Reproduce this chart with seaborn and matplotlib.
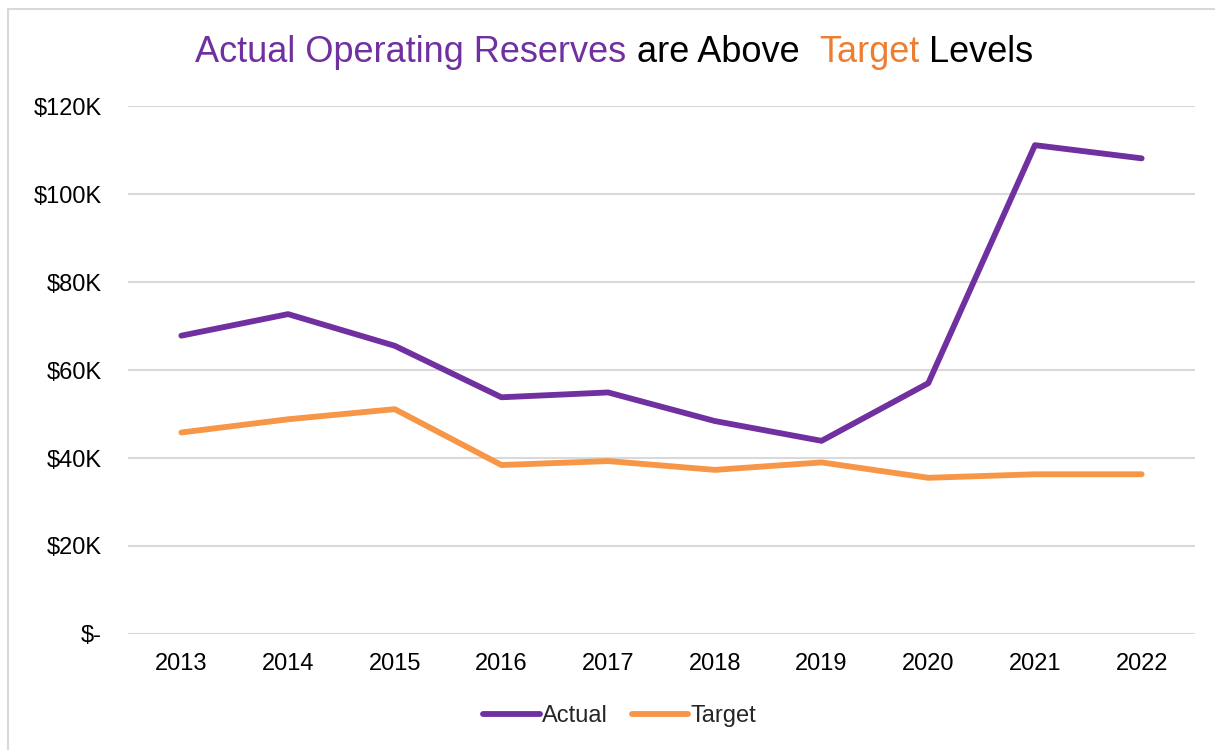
import matplotlib
matplotlib.use("Agg")
import matplotlib.pyplot as plt
import seaborn as sns
import pandas as pd
from matplotlib.patches import Rectangle
from matplotlib.ticker import FuncFormatter

# Data (values in dollars)
years = ["2013", "2014", "2015", "2016", "2017", "2018", "2019", "2020", "2021", "2022"]
actual = [67800, 72700, 65500, 53800, 54900, 48400, 43900, 57000, 111100, 108100]
target = [45800, 48800, 51100, 38400, 39300, 37300, 39000, 35500, 36300, 36300]

purple = "#7030A0"
orange = "#F79646"
title_orange = "#ED7D31"

df = pd.DataFrame({"year": years * 2,
                   "value": actual + target,
                   "series": ["Actual"] * len(years) + ["Target"] * len(years)})

sns.set_theme(style="white")
plt.rcParams["font.family"] = ["Liberation Sans", "DejaVu Sans"]

fig = plt.figure(figsize=(12.15, 7.5), dpi=100)
ax = fig.add_axes([128 / 1215, 1 - 634 / 750, (1195 - 128) / 1215, (634 - 106) / 750])

sns.lineplot(data=df, x="year", y="value", hue="series",
             palette={"Actual": purple, "Target": orange},
             linewidth=4.2, sort=False, ax=ax)
for line in ax.lines:
    line.set_solid_capstyle("round")
    line.set_solid_joinstyle("round")

ax.set_xlim(-0.5, len(years) - 0.5)
ax.set_ylim(0, 120000)
ax.set_yticks(range(0, 120001, 20000))
ax.yaxis.set_major_formatter(FuncFormatter(lambda v, p: "$-" if v == 0 else f"${int(v / 1000)}K"))
ax.grid(axis="y", color="#d9d9d9", linewidth=1.5)
ax.set_axisbelow(True)
for s in ax.spines.values():
    s.set_visible(False)
ax.tick_params(axis="both", labelsize=17, colors="#000000", length=0)
ax.tick_params(axis="y", pad=19)
ax.tick_params(axis="x", pad=14)
ax.set_xlabel("")
ax.set_ylabel("")

leg = ax.legend(loc="center", bbox_to_anchor=(0.461, -0.155), ncol=2, frameon=False,
                fontsize=17, handlelength=2.4, handletextpad=0.1, columnspacing=1.0)
for h in leg.get_lines():
    h.set_linewidth(4.2)
    h.set_solid_capstyle("round")

# Title with coloured words
parts = [("Actual Operating Reserves ", purple), ("are Above  ", "#000000"),
         ("Target", title_orange), (" Levels", "#000000")]
fig.canvas.draw()
renderer = fig.canvas.get_renderer()
texts = []
for s, c in parts:
    texts.append(fig.text(0, 1 - 52 / 750, s, color=c, fontsize=26, va="center", ha="left"))
widths = [t.get_window_extent(renderer).width for t in texts]
x0 = (1042 + 187) / 2 - sum(widths) / 2
for t, w in zip(texts, widths):
    t.set_x(x0 / 1215)
    x0 += w

fig.patches.append(Rectangle((8 / 1215, -0.05), 1.1, 1 - 9 / 750 + 0.05, transform=fig.transFigure,
                             fill=False, edgecolor="#d9d9d9", linewidth=1.5))

fig.savefig("out.png", dpi=100, facecolor="white")
